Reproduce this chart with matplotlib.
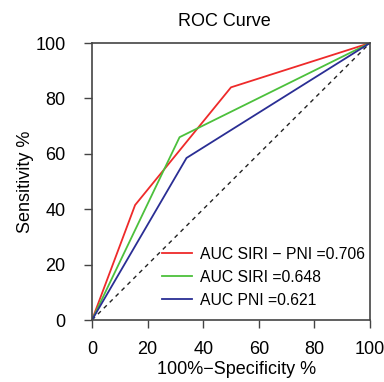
import matplotlib
matplotlib.use("Agg")
import matplotlib.pyplot as plt

plt.rcParams["font.family"] = ["Liberation Sans", "DejaVu Sans"]

# ROC curve points (100% - specificity, sensitivity)
siri_pni_x = [0, 15.5, 50, 100]
siri_pni_y = [0, 41.5, 84, 100]
siri_x = [0, 31.5, 100]
siri_y = [0, 66, 100]
pni_x = [0, 34, 100]
pni_y = [0, 58.5, 100]

labels = ["AUC SIRI \u2212 PNI =0.706", "AUC SIRI =0.648", "AUC PNI =0.621"]
ticks = [0, 20, 40, 60, 80, 100]

fig = plt.figure(figsize=(3.84, 3.82), dpi=100)
ax = fig.add_axes([0.2396, 0.1623, 0.7239, 0.7251])

ax.plot([0, 100], [0, 100], color="#222222", linestyle=(0, (3, 3)), linewidth=1)
ax.plot(siri_pni_x, siri_pni_y, color="#ee2a2a", linewidth=1.3, label=labels[0])
ax.plot(siri_x, siri_y, color="#4cc03c", linewidth=1.3, label=labels[1])
ax.plot(pni_x, pni_y, color="#2a2e94", linewidth=1.3, label=labels[2])

ax.set_xlim(0, 100)
ax.set_ylim(0, 100)
ax.set_xticks(ticks)
ax.set_yticks(ticks)
ax.tick_params(labelsize=13, length=6, width=1, color="#444444")
ax.tick_params(axis="x", pad=9)
ax.tick_params(axis="y", pad=13)
for side in ax.spines.values():
    side.set_color("#444444")
    side.set_linewidth(1.2)

ax.set_title("ROC Curve", fontsize=13, pad=12, x=0.475)
ax.set_xlabel("100%\u2212Specificity %", fontsize=13, labelpad=2, x=0.52)
ax.set_ylabel("Sensitivity %", fontsize=13, labelpad=1)

ax.legend(loc="lower right", bbox_to_anchor=(0.982, 0.045), frameon=False,
          fontsize=11.3, handlelength=1.9, handletextpad=0.5, labelspacing=0.5,
          borderaxespad=0, borderpad=0)

fig.savefig("out.png", dpi=100)
